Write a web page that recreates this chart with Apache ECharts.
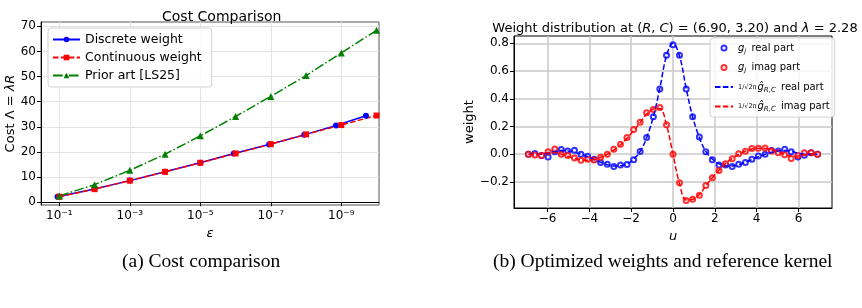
<!DOCTYPE html>
<html>
<head>
<meta charset="utf-8">
<script src="https://cdn.jsdelivr.net/npm/echarts@6/dist/echarts.min.js"></script>
<style>
  html, body { margin: 0; padding: 0; background: #fff; }
  #chart { width: 862px; height: 308px; }
</style>
</head>
<body>
<div id="chart"></div>
<script>
// (a) cost comparison: x is k where epsilon = 10^-k
const epsExpDiscrete = [0.95, 2, 3, 4, 5, 5.95, 6.95, 7.95, 8.85, 9.7];
const costDiscrete = [2.2, 5.3, 8.6, 12.1, 15.7, 19.4, 23.0, 26.8, 30.5, 34.4];
const epsExpContinuous = [1, 2, 3, 4, 5, 6, 7, 8, 9, 10];
const costContinuous = [2.2, 5.2, 8.6, 12.1, 15.7, 19.4, 23.1, 27.0, 30.7, 34.5];
const epsExpPrior = [1, 2, 3, 4, 5, 6, 7, 8, 9, 10];
const costPrior = [2.5, 7.0, 12.7, 19.1, 26.4, 34.1, 42.1, 50.4, 59.4, 68.4];
const costXTicks = [1, 3, 5, 7, 9];
const costYTicks = [0, 10, 20, 30, 40, 50, 60, 70];

// (b) weights vs kernel
const uGrid = [-6.91, -6.60, -6.28, -5.97, -5.65, -5.34, -5.03, -4.71, -4.40, -4.08, -3.77,
  -3.46, -3.14, -2.83, -2.51, -2.20, -1.88, -1.57, -1.26, -0.94, -0.63, -0.31, 0,
  0.31, 0.63, 0.94, 1.26, 1.57, 1.88, 2.20, 2.51, 2.83, 3.14, 3.46, 3.77, 4.08,
  4.40, 4.71, 5.03, 5.34, 5.65, 5.97, 6.28, 6.60, 6.91];
const gReal = [0.0, 0.005, -0.01, -0.02, 0.017, 0.034, 0.024, 0.029, 0.0, -0.015, -0.036,
  -0.06, -0.072, -0.089, -0.077, -0.075, -0.039, 0.02, 0.12, 0.27, 0.47, 0.715, 0.79,
  0.715, 0.47, 0.27, 0.125, 0.017, -0.039, -0.077, -0.077, -0.089, -0.072, -0.06, -0.036,
  -0.012, 0.0, 0.027, 0.024, 0.036, 0.017, -0.02, -0.007, 0.01, 0.0];
const gImag = [0.0, -0.005, -0.01, 0.018, 0.038, 0.0, -0.01, -0.027, -0.044, -0.036, -0.041,
  -0.022, 0.0, 0.036, 0.072, 0.12, 0.178, 0.231, 0.299, 0.323, 0.337, 0.212, 0.0,
  -0.205, -0.333, -0.325, -0.296, -0.226, -0.170, -0.118, -0.068, -0.033, 0.004, 0.022,
  0.042, 0.043, 0.045, 0.024, 0.01, -0.003, -0.031, -0.01, 0.01, 0.01, 0.0];
const kernelReal = [0.0, 0.0, 0.0, 0.008, 0.02, 0.027, 0.024, 0.014, 0.0, -0.018, -0.038,
  -0.058, -0.075, -0.085, -0.083, -0.07, -0.035, 0.02, 0.12, 0.27, 0.475, 0.71, 0.80,
  0.71, 0.475, 0.27, 0.12, 0.02, -0.035, -0.07, -0.083, -0.085, -0.075, -0.058, -0.038,
  -0.018, 0.0, 0.014, 0.024, 0.027, 0.02, 0.008, 0.0, 0.0, 0.0];
const kernelImag = [0.0, -0.004, 0.004, 0.012, 0.012, 0.0, -0.015, -0.03, -0.042, -0.044, -0.038,
  -0.022, 0.0, 0.03, 0.068, 0.115, 0.17, 0.228, 0.29, 0.325, 0.33, 0.21, 0.0,
  -0.21, -0.33, -0.325, -0.29, -0.228, -0.17, -0.115, -0.068, -0.03, 0.0, 0.022, 0.038,
  0.044, 0.042, 0.03, 0.015, 0.0, -0.012, -0.012, -0.004, 0.004, 0.0];
const weightXTicks = [-6, -4, -2, 0, 2, 4, 6];
const weightYTicks = [-0.2, 0, 0.2, 0.4, 0.6, 0.8];

const FONT = "DejaVu Sans";
const SUP = { "0": "⁰", "1": "¹", "2": "²", "3": "³", "4": "⁴", "5": "⁵", "6": "⁶", "7": "⁷", "8": "⁸", "9": "⁹" };
function supExp(k) {
  return "10⁻" + String(k).split("").map((c) => SUP[c]).join("");
}
function minus(v, digits) {
  return v.toFixed(digits).replace("-", "−");
}
function zip(xs, ys) {
  return xs.map((x, i) => [x, ys[i]]);
}

const legendNames = {
  gReal: "{gi|g}{sub|j} real part",
  gImag: "{gi|g}{sub|j} imag part",
  kReal: "{fr|1/√2π}{gi|ĝ}{sub|R,C} real part",
  kImag: "{fr|1/√2π}{gi|ĝ}{sub|R,C} imag part",
};

const chart = echarts.init(document.getElementById("chart"), null, { renderer: "canvas" });
chart.setOption({
  animation: false,
  textStyle: { fontFamily: FONT, color: "#000" },
  title: [
    {
      text: "Cost Comparison",
      left: 157, top: 5,
      textStyle: { fontFamily: FONT, fontSize: 14, fontWeight: "normal", color: "#000" },
    },
    {
      text: "Weight distribution at ({i|R}, {i|C}) = (6.90, 3.20) and {i|λ} = 2.28",
      left: 670, textAlign: "center", top: 17,
      textStyle: {
        fontFamily: FONT, fontSize: 13, fontWeight: "normal", color: "#000",
        rich: { i: { fontFamily: FONT, fontSize: 13, fontStyle: "italic", color: "#000" } },
      },
    },
  ],
  grid: [
    { left: 41, right: 483, top: 22, bottom: 103, show: true, borderColor: "#555", borderWidth: 1, backgroundColor: "transparent" },
    { left: 514, right: 30, top: 36, bottom: 100, show: true, borderColor: "#000", borderWidth: 1, backgroundColor: "transparent" },
  ],
  legend: [
    {
      orient: "vertical", left: 48, top: 28,
      itemWidth: 27, itemHeight: 7, itemGap: 5,
      padding: [5, 10, 5, 4],
      backgroundColor: "rgba(255,255,255,0.85)",
      borderColor: "#d0d0d0", borderWidth: 1, borderRadius: 3,
      textStyle: { fontFamily: FONT, fontSize: 12.5, color: "#000" },
      data: ["Discrete weight", "Continuous weight", "Prior art [LS25]"],
    },
    {
      orient: "vertical", left: 710, top: 38,
      itemWidth: 18, itemHeight: 5, itemGap: 8,
      padding: [5, 5, 4, 4],
      backgroundColor: "rgba(255,255,255,0.85)",
      borderColor: "#d0d0d0", borderWidth: 1, borderRadius: 3,
      formatter: (name) => legendNames[name],
      textStyle: {
        fontFamily: FONT, fontSize: 10, color: "#000",
        rich: {
          gi: { fontFamily: FONT, fontSize: 10, fontStyle: "italic" },
          sub: { fontFamily: FONT, fontSize: 7, fontStyle: "italic", padding: [6, 2, 0, 0] },
          fr: { fontFamily: FONT, fontSize: 6.5, padding: [0, 1, 0, 0] },
        },
      },
      data: [
        "gReal",
        "gImag",
        { name: "kReal", itemStyle: { opacity: 0 } },
        { name: "kImag", itemStyle: { opacity: 0 } },
      ],
    },
  ],
  xAxis: [
    {
      gridIndex: 0, type: "value", min: 0.48, max: 10.07,
      name: "ε", nameLocation: "middle", nameGap: 19,
      nameTextStyle: { fontFamily: FONT, fontSize: 13, fontStyle: "italic", color: "#000" },
      axisLine: { show: true, lineStyle: { color: "#000", width: 1 } },
      axisTick: { show: true, length: 4, customValues: costXTicks, lineStyle: { color: "#000" } },
      axisLabel: { customValues: costXTicks, formatter: (v) => supExp(v), fontFamily: FONT, fontSize: 12, color: "#000", margin: 5 },
      splitLine: { show: true, lineStyle: { color: "#e3e3e3", width: 1 } },
    },
    {
      gridIndex: 1, type: "value", min: -7.6, max: 7.6,
      name: "u", nameLocation: "middle", nameGap: 19,
      nameTextStyle: { fontFamily: FONT, fontSize: 13, fontStyle: "italic", color: "#000" },
      axisLine: { show: true, onZero: false, lineStyle: { color: "#000", width: 1 } },
      axisTick: { show: true, length: 4, customValues: weightXTicks, lineStyle: { color: "#000" } },
      axisLabel: { customValues: weightXTicks, formatter: (v) => minus(v, 0), fontFamily: FONT, fontSize: 12, color: "#000", margin: 5 },
      splitLine: { show: true, lineStyle: { color: "#c8c8c8", width: 1.5 } },
    },
  ],
  yAxis: [
    {
      gridIndex: 0, type: "value", min: -1.1, max: 71.7,
      name: "{n|Cost Λ = }{i|λR}", nameLocation: "middle", nameGap: 21,
      nameTextStyle: {
        fontFamily: FONT, fontSize: 13, color: "#000",
        rich: {
          n: { fontFamily: FONT, fontSize: 13, color: "#000" },
          i: { fontFamily: FONT, fontSize: 13, fontStyle: "italic", color: "#000" },
        },
      },
      axisLine: { show: true, lineStyle: { color: "#000", width: 1 } },
      axisTick: { show: true, length: 4, customValues: costYTicks, lineStyle: { color: "#000" } },
      axisLabel: { customValues: costYTicks, fontFamily: FONT, fontSize: 12, color: "#000", margin: 5 },
      splitLine: { show: true, lineStyle: { color: "#e3e3e3", width: 1 } },
    },
    {
      gridIndex: 1, type: "value", min: -0.388, max: 0.853,
      name: "weight", nameLocation: "middle", nameGap: 33,
      nameTextStyle: { fontFamily: FONT, fontSize: 13, color: "#000" },
      axisLine: { show: true, onZero: false, lineStyle: { color: "#000", width: 1 } },
      axisTick: { show: true, length: 4, customValues: weightYTicks, lineStyle: { color: "#000" } },
      axisLabel: { customValues: weightYTicks, formatter: (v) => minus(v, 1), fontFamily: FONT, fontSize: 12, color: "#000", margin: 5 },
      splitLine: { show: true, lineStyle: { color: "#c8c8c8", width: 1.5 } },
    },
  ],
  series: [
    {
      name: "Discrete weight", type: "line", xAxisIndex: 0, yAxisIndex: 0,
      data: zip(epsExpDiscrete, costDiscrete),
      symbol: "circle", symbolSize: 6,
      lineStyle: { color: "#0000ff", width: 1.5 },
      itemStyle: { color: "#0000ff" },
    },
    {
      name: "Continuous weight", type: "line", xAxisIndex: 0, yAxisIndex: 0,
      data: zip(epsExpContinuous, costContinuous),
      symbol: "rect", symbolSize: 6,
      lineStyle: { color: "#ff0000", width: 1.5, type: [5.5, 2.4] },
      itemStyle: { color: "#ff0000" },
    },
    {
      name: "Prior art [LS25]", type: "line", xAxisIndex: 0, yAxisIndex: 0,
      data: zip(epsExpPrior, costPrior),
      symbol: "triangle", symbolSize: 7,
      lineStyle: { color: "#008000", width: 1.5, type: [9.6, 2.4, 1.5, 2.4] },
      itemStyle: { color: "#008000" },
    },
    {
      name: "gReal", type: "scatter", xAxisIndex: 1, yAxisIndex: 1,
      data: zip(uGrid, gReal),
      symbol: "emptyCircle", symbolSize: 5,
      itemStyle: { color: "#0000ff", borderColor: "#0000ff", borderWidth: 1 },
    },
    {
      name: "gImag", type: "scatter", xAxisIndex: 1, yAxisIndex: 1,
      data: zip(uGrid, gImag),
      symbol: "emptyCircle", symbolSize: 5,
      itemStyle: { color: "#ff0000", borderColor: "#ff0000", borderWidth: 1 },
    },
    {
      name: "kReal", type: "line", xAxisIndex: 1, yAxisIndex: 1,
      data: zip(uGrid, kernelReal), smooth: 0.4,
      showSymbol: false, symbol: "none",
      lineStyle: { color: "#0000ff", width: 1.5, type: [5.5, 2.4] },
      itemStyle: { color: "#0000ff" },
    },
    {
      name: "kImag", type: "line", xAxisIndex: 1, yAxisIndex: 1,
      data: zip(uGrid, kernelImag), smooth: 0.4,
      showSymbol: false, symbol: "none",
      lineStyle: { color: "#ff0000", width: 1.5, type: [5.5, 2.4] },
      itemStyle: { color: "#ff0000" },
    },
  ],
  graphic: [
    {
      type: "text", left: 122, top: 252,
      style: { text: "(a) Cost comparison", font: "19.5px 'Liberation Serif'", fill: "#000" },
    },
    {
      type: "text", left: 493, top: 252,
      style: { text: "(b) Optimized weights and reference kernel", font: "19.5px 'Liberation Serif'", fill: "#000" },
    },
  ],
});
</script>
</body>
</html>
